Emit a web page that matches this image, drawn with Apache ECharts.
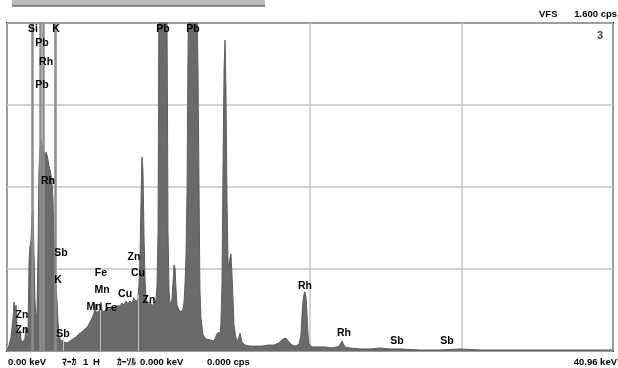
<!DOCTYPE html>
<html><head><meta charset="utf-8">
<script src="https://cdn.jsdelivr.net/npm/echarts/dist/echarts.min.js"></script>
<style>html,body{margin:0;padding:0;background:#fff}#c{width:618px;height:368px}</style>
</head><body><div id="c"></div>
<script>
// Spectrum (keV vs cps)
const energies = [0,0.14,0.27,0.41,0.47,0.54,0.61,0.68,0.74,0.88,0.95,1.08,1.22,1.28,1.35,1.42,1.49,1.55,1.62,1.69,1.76,1.82,1.89,1.96,2.03,2.10,2.16,2.23,2.30,2.37,2.43,2.50,2.57,2.64,2.70,2.77,2.84,2.91,2.97,3.04,3.11,3.18,3.24,3.31,3.38,3.45,3.51,3.65,3.85,4.06,4.26,4.46,4.66,4.87,5.07,5.27,5.47,5.61,5.75,5.88,5.95,6.02,6.15,6.29,6.35,6.42,6.56,6.69,6.83,6.96,7.10,7.23,7.37,7.50,7.64,7.77,7.91,8.04,8.18,8.31,8.45,8.58,8.72,8.85,8.92,8.99,9.06,9.12,9.19,9.26,9.33,9.40,9.53,9.67,9.80,9.94,10.07,10.14,10.21,10.24,10.27,10.54,10.81,10.85,10.88,10.95,11.02,11.15,11.22,11.29,11.36,11.42,11.49,11.63,11.76,11.90,11.96,12.03,12.10,12.17,12.23,12.27,12.57,12.84,12.91,12.98,13.04,13.11,13.25,13.45,13.72,13.99,14.19,14.33,14.40,14.46,14.53,14.60,14.67,14.74,14.80,14.87,14.94,15.01,15.07,15.14,15.21,15.28,15.34,15.48,15.61,15.75,15.88,16.09,16.42,16.83,17.24,17.64,18.05,18.38,18.65,18.86,19.06,19.26,19.53,19.74,19.87,19.94,20.01,20.08,20.14,20.21,20.28,20.35,20.41,20.62,21.02,21.49,21.97,22.30,22.44,22.58,22.66,22.73,22.85,23.18,23.86,24.54,25.21,25.89,26.56,27.91,29.27,30.62,31.97,33.32,34.67,36.03,37.38,38.73,40.08,40.96];
const counts = [0,29,68,161,239,190,224,127,78,102,54,44,63,112,68,78,434,507,541,663,688,493,249,161,190,493,883,980,1029,1005,990,971,941,971,956,932,902,883,859,824,737,541,434,322,249,141,68,54,44,39,49,59,68,83,93,107,122,141,161,185,229,185,176,200,239,200,190,205,210,200,220,210,220,229,220,234,224,244,229,244,234,259,239,254,322,468,737,946,883,566,346,259,224,239,220,234,249,322,590,1127,1700,2600,1700,1127,590,298,224,249,332,420,405,307,224,200,190,205,234,322,468,785,1419,1700,2500,1700,1371,785,298,161,78,59,54,49,83,93,63,141,322,883,1371,1517,1273,737,434,405,454,473,371,249,127,63,49,88,44,29,24,24,24,29,29,39,59,63,44,29,24,34,78,176,249,278,288,263,176,78,34,20,20,20,15,20,24,39,49,34,20,15,10,10,15,10,10,5,5,10,5,5,5,5,5,5,5,5];

// Peak identification labels
const peakNames    = ['Si','K','Pb','Pb','Pb','Rh','Pb','Rh','Sb','K','Sb','Zn','Zn','Fe','Mn','Mn','Fe','Cu','Zn','Cu','Zn','Rh','Rh','Sb','Sb'];
const peakEnergies = [1.76,3.31,10.54,12.57,2.37,2.64,2.37,2.77,3.65,3.45,3.79,1.01,1.01,6.35,6.42,5.88,7.03,7.98,8.58,8.85,9.60,20.14,22.78,26.36,29.74];
const peakCounts   = [1571,1571,1571,1571,1500,1410,1298,829,478,346,83,176,102,380,298,215,210,278,459,380,249,317,88,49,49];

// KLM marker lines (keV)
const markerEnergies = [1.72, 2.26, 2.43, 3.28];
const innerMarkers = [[3.79, 63], [6.29, 224], [8.85, 273]];

const xRange = [0, 40.96];
const yRange = [0, 1600];
const headerTexts = ['VFS', '1.600 cps'];
const panelNo = '3';
const footerTexts = ['0.00 keV', 'ﾏｰｶ', '1', 'H', 'ｶｰｿﾙ', '0.000 keV', '0.000 cps', '40.96 keV'];

const FONT = '"Liberation Sans", "Noto Sans CJK JP", sans-serif';
const chart = echarts.init(document.getElementById('c'), null, {renderer: 'canvas'});

const spectrum = energies.map((e, i) => [e, counts[i]]);
const labels = peakEnergies.map((e, i) => ({value: [e, peakCounts[i]], name: peakNames[i]}));

const markLineData = markerEnergies.map(e => ({xAxis: e}));
const innerLineData = innerMarkers.map(m => [
  {coord: [m[0], 0], lineStyle: {color: '#c2c2c2', width: 1, type: 'solid'}}, {coord: [m[0], m[1]]}
]);

function txt(text, x, y, align, size, color) {
  return {type: 'text', z: 100, style: {text: text, x: x, y: y, align: align || 'left', verticalAlign: 'middle',
    font: 'bold ' + (size || 9.5) + 'px ' + FONT, fill: color || '#000'}};
}

const footerX = [8, 62, 83, 93, 117, 140, 207, 617];
const graphics = [
  {type: 'rect', shape: {x: 12, y: 0, width: 253, height: 6}, style: {fill: '#b9b9b9'}, z: 100},
  {type: 'line', shape: {x1: 12, y1: 6, x2: 265, y2: 6}, style: {stroke: '#6a6a6a', lineWidth: 1.5}, z: 100},
  txt(headerTexts[0], 539, 14, 'left'),
  txt(headerTexts[1], 617, 14, 'right'),
  txt(panelNo, 603, 36, 'right', 11, '#444')
];
footerTexts.forEach((t, i) => {
  graphics.push(txt(t, footerX[i], 362, i === footerTexts.length - 1 ? 'right' : 'left'));
});

chart.setOption({
  animation: false,
  backgroundColor: '#fff',
  grid: {left: 7, right: 5, top: 23, bottom: 17, show: true, borderColor: '#2a2a2a', borderWidth: 2, backgroundColor: 'transparent'},
  xAxis: {type: 'value', min: xRange[0], max: xRange[1], interval: 10.24,
    axisLabel: {show: false}, axisTick: {show: false}, axisLine: {show: false},
    splitLine: {show: true, lineStyle: {color: '#c4c4c4', width: 1.5}}},
  yAxis: {type: 'value', min: yRange[0], max: yRange[1], interval: 400,
    axisLabel: {show: false}, axisTick: {show: false}, axisLine: {show: false},
    splitLine: {show: true, lineStyle: {color: '#c4c4c4', width: 1.5}}},
  series: [
    {type: 'line', data: spectrum, symbol: 'none', clip: true, z: 2,
      lineStyle: {color: '#5e5e5e', width: 1},
      areaStyle: {color: '#6a6a6a', opacity: 1},
      markLine: {silent: true, symbol: 'none', label: {show: false},
        lineStyle: {color: '#8e8e8e', width: 2.5, type: 'solid'},
        data: markLineData.concat(innerLineData)
      }
    },
    {type: 'scatter', data: labels, symbolSize: 0, z: 10, silent: true,
      itemStyle: {color: '#000', opacity: 1},
      label: {show: true, position: 'inside', formatter: '{b}', fontSize: 10.5, fontWeight: 'bold',
        color: '#000', opacity: 1, textBorderWidth: 0, textBorderColor: 'transparent', fontFamily: FONT}
    }
  ],
  graphic: graphics
});
</script>
</body></html>
